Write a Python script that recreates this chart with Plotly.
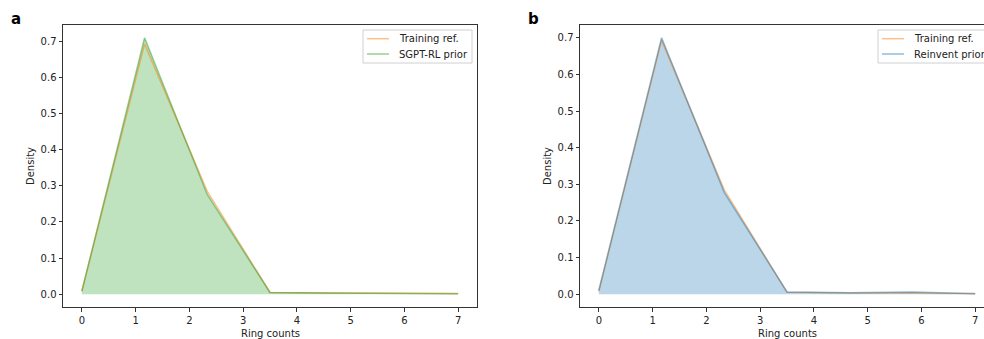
import plotly.graph_objects as go

# ---- data ----
ring_x = [0.0, 1.167, 2.333, 3.5, 4.667, 5.833, 7.0]
x_ticks = [0, 1, 2, 3, 4, 5, 6, 7]
y_ticks = [0.0, 0.1, 0.2, 0.3, 0.4, 0.5, 0.6, 0.7]

training_ref = [0.008, 0.693, 0.285, 0.005, 0.003, 0.002, 0.002]
sgpt_rl_prior = [0.008, 0.710, 0.276, 0.005, 0.003, 0.001, 0.001]
reinvent_prior = [0.010, 0.700, 0.278, 0.006, 0.004, 0.006, 0.001]

legend_a = ["Training ref.", "SGPT-RL prior"]
legend_b = ["Training ref.", "Reinvent prior"]

W, H = 984, 339
FONT = "DejaVu Sans"


def px(x):
    return x / W


def py(y):
    return 1 - y / H


ORANGE_LINE = "rgba(255,127,14,0.5)"
GREEN_LINE = "rgba(44,160,44,0.5)"
GREEN_FILL = "rgba(44,160,44,0.3)"
BLUE_LINE = "rgba(31,119,180,0.5)"
BLUE_FILL = "rgba(31,119,180,0.3)"

fig = go.Figure()

# panel a
fig.add_trace(go.Scatter(x=ring_x, y=sgpt_rl_prior, mode="none", fill="tozeroy",
                         fillcolor=GREEN_FILL, hoverinfo="skip", xaxis="x", yaxis="y"))
fig.add_trace(go.Scatter(x=ring_x, y=training_ref, mode="lines", name=legend_a[0],
                         line=dict(color=ORANGE_LINE, width=1.5), xaxis="x", yaxis="y"))
fig.add_trace(go.Scatter(x=ring_x, y=sgpt_rl_prior, mode="lines", name=legend_a[1],
                         line=dict(color=GREEN_LINE, width=1.5), xaxis="x", yaxis="y"))

# panel b
fig.add_trace(go.Scatter(x=ring_x, y=reinvent_prior, mode="none", fill="tozeroy",
                         fillcolor=BLUE_FILL, hoverinfo="skip", xaxis="x2", yaxis="y2"))
fig.add_trace(go.Scatter(x=ring_x, y=training_ref, mode="lines", name=legend_b[0],
                         line=dict(color=ORANGE_LINE, width=1.5), xaxis="x2", yaxis="y2"))
fig.add_trace(go.Scatter(x=ring_x, y=reinvent_prior, mode="lines", name=legend_b[1],
                         line=dict(color=BLUE_LINE, width=1.5), xaxis="x2", yaxis="y2"))

ydom = [py(307), py(25)]
ax_common = dict(showgrid=False, zeroline=False, ticks="outside", ticklen=3.5, tickwidth=1,
                 tickcolor="#333", linecolor="#333", linewidth=1, showline=True,
                 tickfont=dict(family=FONT, size=10, color="#222"))

fig.update_layout(
    width=W, height=H,
    margin=dict(l=0, r=0, t=0, b=0, autoexpand=False),
    paper_bgcolor="white", plot_bgcolor="white",
    font=dict(family=FONT, size=10, color="#222"),
    showlegend=False,
    xaxis=dict(domain=[px(63), px(477)], range=[-0.35, 7.35], tickvals=x_ticks,
               mirror=True, anchor="y", **ax_common),
    yaxis=dict(domain=ydom, range=[-0.0355, 0.7455], tickvals=y_ticks, tickformat=".1f",
               mirror=True, anchor="x", **ax_common),
    xaxis2=dict(domain=[px(580), 1.0], range=[-0.35, 7.35 - 10 / 53.67], tickvals=x_ticks,
                mirror=True, anchor="y2", **ax_common),
    yaxis2=dict(domain=ydom, range=[-0.035, 0.735], tickvals=y_ticks, tickformat=".1f",
                mirror=False, anchor="x2", **ax_common),
)

# panel letters
for txt, x in [("<b>a</b>", 16), ("<b>b</b>", 533)]:
    fig.add_annotation(xref="paper", yref="paper", x=px(x), y=py(19), text=txt,
                       showarrow=False, xanchor="center", yanchor="middle",
                       font=dict(family=FONT, size=15, color="black"))

# axis titles
for xc in [270, 787]:
    fig.add_annotation(xref="paper", yref="paper", x=px(xc), y=py(333), text="Ring counts",
                       showarrow=False, xanchor="center", yanchor="middle",
                       font=dict(family=FONT, size=10, color="#222"))
for xc in [30, 547]:
    fig.add_annotation(xref="paper", yref="paper", x=px(xc), y=py(166), text="Density",
                       textangle=-90, showarrow=False, xanchor="center", yanchor="middle",
                       font=dict(family=FONT, size=10, color="#222"))


# legends (matplotlib-style boxes)
def add_legend(x0, x1, labels, colors):
    fig.add_shape(type="rect", xref="paper", yref="paper", x0=px(x0), x1=px(x1),
                  y0=py(63), y1=py(30), line=dict(color="#d0d0d0", width=1),
                  fillcolor="rgba(255,255,255,0.8)", layer="above")
    for i, (lab, col) in enumerate(zip(labels, colors)):
        yy = 38.7 + i * 15.3
        fig.add_shape(type="line", xref="paper", yref="paper", x0=px(x0 + 4), x1=px(x0 + 26),
                      y0=py(yy), y1=py(yy), line=dict(color=col, width=1.5), layer="above")
        fig.add_annotation(xref="paper", yref="paper", x=px(x0 + 34), y=py(yy), text=lab,
                           showarrow=False, xanchor="left", yanchor="middle",
                           font=dict(family=FONT, size=10, color="#222"))


add_legend(363, 472, legend_a, [ORANGE_LINE, GREEN_LINE])
add_legend(878, 992, legend_b, [ORANGE_LINE, BLUE_LINE])

fig.write_html(
    "out.html",
    config={"displayModeBar": False},
    post_script="document.body.style.margin='0';document.body.style.overflow='hidden';",
)
